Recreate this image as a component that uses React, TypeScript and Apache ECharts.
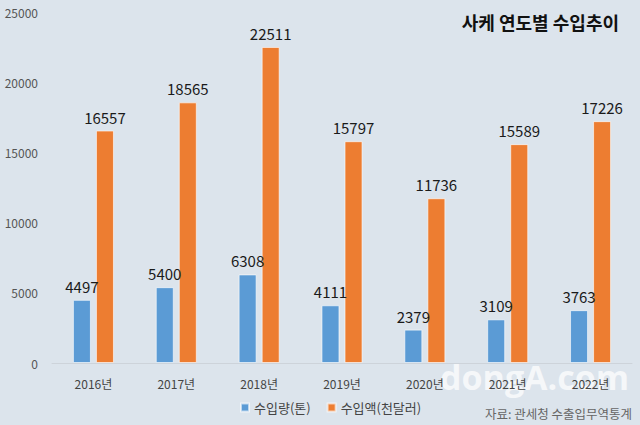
import React, { useEffect, useRef } from "react";
import * as echarts from "echarts";

const categories = ["2016년", "2017년", "2018년", "2019년", "2020년", "2021년", "2022년"];
const volume = [4497, 5400, 6308, 4111, 2379, 3109, 3763];
const amount = [16557, 18565, 22511, 15797, 11736, 15589, 17226];
const seriesNames = ["수입량(톤)", "수입액(천달러)"];
const title = "사케 연도별 수입추이";
const source = "자료: 관세청 수출입무역통계";

export default function App() {
  const ref = useRef<HTMLDivElement>(null);
  useEffect(() => {
    const chart = echarts.init(ref.current!, null, { renderer: "svg" });
    const font = "'Noto Sans CJK KR', 'Noto Sans', sans-serif";
    const label = {
      show: true,
      position: "top",
      distance: 6,
      color: "#1a1a1a",
      fontSize: 15,
      fontFamily: font,
    };
    chart.setOption({
      animation: false,
      backgroundColor: "#dce4ec",
      textStyle: { fontFamily: font },
      grid: { left: 52, right: 8, top: 12, bottom: 62, containLabel: false },
      title: {
        text: title,
        right: 16,
        top: 8,
        textStyle: { fontSize: 18, fontWeight: "bold", color: "#111", fontFamily: font },
      },
      legend: {
        data: seriesNames,
        bottom: 6,
        left: 235,
        itemWidth: 8,
        itemHeight: 8,
        itemGap: 16,
        icon: "rect",
        textStyle: { fontSize: 13, color: "#444", fontFamily: font },
      },
      xAxis: {
        type: "category",
        data: categories,
        axisLine: { lineStyle: { color: "#cdd3da" } },
        axisTick: { show: false },
        axisLabel: { fontSize: 12, color: "#444", margin: 14, fontFamily: font },
      },
      yAxis: {
        type: "value",
        min: 0,
        max: 25000,
        interval: 5000,
        splitLine: { show: false },
        axisLine: { show: false },
        axisTick: { show: false },
        axisLabel: {
          fontSize: 12,
          color: "#555",
          margin: 14,
          fontFamily: font,
          formatter: (v: number) => String(v),
        },
      },
      series: [
        {
          name: seriesNames[0],
          type: "bar",
          data: volume,
          barWidth: 18,
          barGap: "28%",
          itemStyle: { color: "#5b9bd5", borderColor: "rgba(255,255,255,0.6)", borderWidth: 1 },
          label,
        },
        {
          name: seriesNames[1],
          type: "bar",
          data: amount,
          barWidth: 18,
          itemStyle: { color: "#ed7d31", borderColor: "rgba(255,255,255,0.6)", borderWidth: 1 },
          label,
        },
      ],
      graphic: [
        {
          type: "text",
          right: 8,
          bottom: 5,
          style: { text: source, fontSize: 12.5, fill: "#666", fontFamily: font },
        },
        {
          type: "text",
          left: 440,
          top: 360,
          silent: true,
          style: {
            text: "dongA.com",
            fontSize: 34,
            fontWeight: "bold",
            fill: "rgba(255,255,255,0.72)",
            fontFamily: "'Open Sans', sans-serif",
          },
        },
      ],
    });
    return () => chart.dispose();
  }, []);
  return <div ref={ref} style={{ width: 640, height: 425, position: "absolute", left: 0, top: 0 }} />;
}
